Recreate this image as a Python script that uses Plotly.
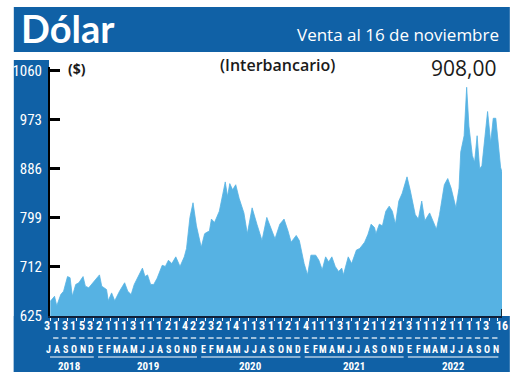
import pandas as pd
import plotly.graph_objects as go

# ---------------- data ----------------
dates = ["2018-07-02","2018-07-17","2018-07-25","2018-08-08","2018-08-18","2018-09-01","2018-09-10","2018-09-18","2018-09-30","2018-10-11","2018-10-26","2018-11-03","2018-11-15","2018-11-26","2018-12-08","2018-12-23","2018-12-31",
         "2019-01-17","2019-01-23","2019-02-04","2019-02-15","2019-03-04","2019-03-22","2019-04-02","2019-04-14","2019-04-25","2019-05-13","2019-05-24","2019-06-02","2019-06-11","2019-06-22","2019-07-03","2019-07-15","2019-08-02","2019-08-13","2019-08-24","2019-09-05","2019-09-19","2019-10-04","2019-10-19","2019-10-27","2019-11-08","2019-11-19","2019-12-01","2019-12-18","2019-12-30",
         "2020-01-05","2020-01-16","2020-01-23","2020-02-03","2020-02-20","2020-03-03","2020-03-12","2020-03-20","2020-03-28","2020-04-07","2020-04-18","2020-04-30","2020-05-17","2020-05-29","2020-06-15","2020-07-02","2020-07-20","2020-08-06","2020-08-17","2020-09-04","2020-09-21","2020-10-06","2020-10-20","2020-10-31","2020-11-18","2020-11-29","2020-12-16","2020-12-28",
         "2021-01-09","2021-01-26","2021-02-06","2021-02-18","2021-03-02","2021-03-13","2021-03-24","2021-04-05","2021-04-17","2021-04-28","2021-05-04","2021-05-21","2021-06-02","2021-06-19","2021-07-01","2021-07-18","2021-07-30","2021-08-10","2021-08-22","2021-08-27","2021-09-08","2021-09-19","2021-10-01","2021-10-13","2021-10-24","2021-11-04","2021-11-16","2021-11-28","2021-12-15","2021-12-26",
         "2022-01-13","2022-01-24","2022-02-05","2022-02-16","2022-03-05","2022-03-17","2022-03-29","2022-04-09","2022-04-26","2022-05-08","2022-05-20","2022-06-06","2022-06-17","2022-06-23","2022-07-05","2022-07-14","2022-07-22","2022-08-03","2022-08-11","2022-08-20","2022-08-29","2022-09-06","2022-09-18","2022-09-26","2022-10-07","2022-10-16","2022-10-25","2022-11-03","2022-11-11","2022-11-16"]
values = [651,660,643,663,669,695,693,660,681,684,695,678,675,681,689,698,678,
          672,652,666,652,669,684,669,663,681,698,710,695,698,681,681,692,715,713,724,718,730,713,730,745,800,826,785,747,771,
          773,776,797,791,811,840,863,837,860,849,858,834,808,771,817,788,759,800,785,762,788,797,776,756,768,759,718,698,
          733,733,724,707,730,721,730,713,704,710,698,730,718,742,745,756,770,788,782,771,788,785,811,820,811,788,829,843,872,849,
          805,797,829,794,808,794,779,805,858,869,852,817,852,916,945,1031,962,910,898,945,886,892,945,988,933,976,976,933,889,880]

y_ticks = [625, 712, 799, 886, 973, 1060]
month_letters = list("JASOND") + list("EFMAMJJASOND") * 3 + list("EFMAMJJASON")
day_labels = ["3","1","3","1","5","3","2","1","1","1","3","1","1","1","2","1","4","2",
              "2","3","2","1","4","1","1","3","1","1","2","1","4","1","1","1","3",
              "1","1","2","1","1","2","1","3","1","1","1","2","1","1","1","1","3","16"]
years = ["2018", "2019", "2020", "2021", "2022"]
last_value_label = "908,00"

# ---------------- figure ----------------
BLUE = "#1061a6"
FILL = "#56b2e3"
W, H = 520, 375
L, R, T, B = 40, 18, 67, 59
PW, PH = W - L - R, H - T - B

def xp(px):
    return (px - L) / PW

def yp(py):
    return (H - B - py) / PH

x = pd.to_datetime(dates)
fig = go.Figure()
fig.add_trace(go.Scatter(x=x, y=values, mode="lines", fill="tozeroy",
                         line=dict(color=FILL, width=0.8), fillcolor=FILL,
                         hoverinfo="skip", showlegend=False))

shapes = []
shapes.append(dict(type="rect", xref="paper", yref="paper", x0=xp(3), x1=xp(510), y0=yp(52), y1=yp(7),
                   fillcolor=BLUE, line=dict(width=0), layer="below"))
shapes.append(dict(type="rect", xref="paper", yref="paper", x0=xp(3), x1=xp(39), y0=yp(372), y1=yp(60),
                   fillcolor=BLUE, line=dict(width=0), layer="below"))
shapes.append(dict(type="rect", xref="paper", yref="paper", x0=xp(3), x1=xp(510), y0=yp(372), y1=yp(316),
                   fillcolor=BLUE, line=dict(width=0), layer="below"))
shapes.append(dict(type="line", xref="x", yref="paper", x0=x[-1], x1=x[-1], y0=0, y1=yp(309),
                   line=dict(color="black", width=1.5)))

months = pd.date_range("2018-07-01", "2022-11-01", freq="MS")
annotations = []
small_font = "Liberation Sans Narrow, Roboto Condensed, Roboto, sans-serif"
for i, m in enumerate(months):
    annotations.append(dict(x=m, y=yp(349), xref="x", yref="paper", text=month_letters[i], showarrow=False,
                            xanchor="center", yanchor="middle", xshift=-2,
                            font=dict(family=small_font, size=10, color="white", weight="bold")))
    last = i == len(months) - 1
    annotations.append(dict(x=(x[-1] if last else m), y=yp(326), xref="x", yref="paper", text=day_labels[i],
                            showarrow=False, xanchor="center", yanchor="middle", xshift=(0 if last else -3),
                            font=dict(family=small_font, size=12, color="white", weight="bold")))
    shapes.append(dict(type="line", xref="x", yref="paper", x0=m - pd.Timedelta(days=20), x1=m - pd.Timedelta(days=1),
                       y0=yp(338), y1=yp(338), line=dict(color="white", width=1.2)))

for yr in years:
    ms = [m for m in months if str(m.year) == yr]
    x0 = ms[0] - pd.Timedelta(days=14)
    x1 = ms[-1] + pd.Timedelta(days=2)
    shapes.append(dict(type="line", xref="x", yref="paper", x0=x0, x1=x1, y0=yp(357), y1=yp(357),
                       line=dict(color="white", width=1.2)))
    annotations.append(dict(x=x0 + (x1 - x0) / 2, y=yp(366), xref="x", yref="paper", text=yr, showarrow=False,
                            xanchor="center", yanchor="middle",
                            font=dict(family=small_font, size=11, color="white", weight="bold")))

annotations += [
    dict(x=xp(21), y=yp(28), xref="paper", yref="paper", text="Dólar", showarrow=False, xshift=-12,
         xanchor="left", yanchor="middle", font=dict(family="Lato, sans-serif", size=38, color="white", weight="bold")),
    dict(x=xp(501), y=yp(35), xref="paper", yref="paper", text="Venta al 16 de noviembre", showarrow=False,
         xanchor="right", yanchor="middle", font=dict(family="Open Sans, sans-serif", size=17, color="white")),
    dict(x=xp(273), y=yp(65), xref="paper", yref="paper", text="(Interbancario)", showarrow=False,
         xanchor="center", yanchor="middle", font=dict(family="Open Sans, sans-serif", size=16, color="#1a1a1a", weight=600)),
    dict(x=xp(56), y=yp(68), xref="paper", yref="paper", text="($)", showarrow=False,
         xanchor="left", yanchor="middle", font=dict(family="Open Sans, sans-serif", size=14, color="#1a1a1a", weight="bold")),
    dict(x=xp(498), y=yp(68), xref="paper", yref="paper", text=last_value_label, showarrow=False,
         xanchor="right", yanchor="middle", font=dict(family="Open Sans, sans-serif", size=21, color="#1a1a1a")),
]

fig.update_layout(
    width=W, height=H, margin=dict(l=L, r=R, t=T, b=B, pad=0),
    paper_bgcolor="white", plot_bgcolor="white",
    shapes=shapes, annotations=annotations, showlegend=False,
    xaxis=dict(range=[pd.Timestamp("2018-07-01"), x[-1]], showgrid=False, zeroline=False,
               showline=True, linecolor="#10203a", linewidth=2,
               ticks="outside", tickcolor="white", ticklen=3, tickwidth=1,
               tick0="2018-07-01", dtick="M1", showticklabels=False, fixedrange=True),
    yaxis=dict(range=[625, 1067], tickvals=y_ticks, ticktext=[str(v) for v in y_ticks],
               showgrid=False, zeroline=False, showline=True, linecolor="black", linewidth=2,
               ticks="inside", ticklen=10, tickwidth=2.5, tickcolor="black",
               tickfont=dict(family=small_font, size=15, color="white"), ticklabelstandoff=3,
               fixedrange=True),
)
fig.write_html("out.html", config={"displayModeBar": False},
               post_script="document.body.style.margin='0px';document.body.style.padding='0px';")
